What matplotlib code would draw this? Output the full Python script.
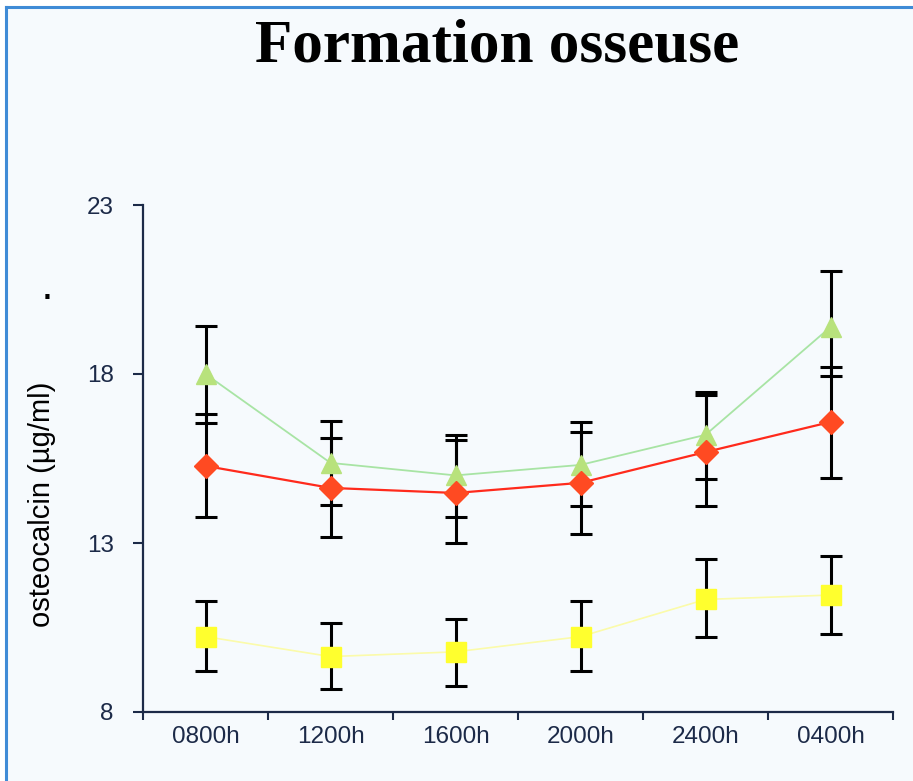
import matplotlib.pyplot as plt
import numpy as np
from matplotlib.lines import Line2D
from matplotlib.patches import Rectangle

# Data
times = ['0800h', '1200h', '1600h', '2000h', '2400h', '0400h']

green = [18.0, 15.37, 15.0, 15.31, 16.2, 19.39]
green_lo = [1.45, 1.24, 1.24, 1.22, 1.3, 1.45]
green_hi = [1.42, 1.24, 1.2, 1.28, 1.28, 1.67]

red = [15.28, 14.63, 14.48, 14.78, 15.69, 16.58]
red_lo = [1.51, 1.44, 1.48, 1.51, 1.6, 1.67]
red_hi = [1.54, 1.49, 1.57, 1.5, 1.69, 1.62]

yellow = [10.23, 9.64, 9.78, 10.23, 11.33, 11.46]
yellow_lo = [1.02, 0.97, 1.01, 1.01, 1.1, 1.15]
yellow_hi = [1.06, 0.98, 0.96, 1.06, 1.2, 1.16]

x = np.arange(len(times)) + 0.5
navy = '#1c2a48'

fig = plt.figure(figsize=(9.13, 7.81), dpi=100)
fig.patch.set_facecolor('white')

# light panel with blue border on top and left
fig.patches.append(Rectangle((6/913, 0), 1, 1 - 7/781, transform=fig.transFigure,
                             facecolor='#f6fafd', edgecolor='none', zorder=-10))
fig.lines.append(Line2D([6/913, 6/913], [0, 1 - 7/781], transform=fig.transFigure,
                        color='#3f8bd6', lw=2.2))
fig.lines.append(Line2D([6/913, 1], [1 - 7/781, 1 - 7/781], transform=fig.transFigure,
                        color='#3f8bd6', lw=2.2))

ax = fig.add_axes([143/913, 1 - 712/781, 750/913, 507/781])
ax.set_facecolor('none')

series = [
    (green, green_lo, green_hi, '#a8e4a4', '#b8e27c', '^', 15, 1.3),
    (red, red_lo, red_hi, '#ff2a1c', '#ff4a22', 'D', 12, 1.6),
    (yellow, yellow_lo, yellow_hi, '#fbfbaa', '#ffff2e', 's', 15, 1.2),
]
for vals, lo, hi, lc, mc, mk, ms, lw in series:
    ax.errorbar(x, vals, yerr=[lo, hi], fmt='none', ecolor='black',
                elinewidth=2.2, capsize=8, capthick=2.2, zorder=2)
    ax.plot(x, vals, color=lc, lw=lw, marker=mk, markersize=ms,
            markerfacecolor=mc, markeredgecolor=mc, zorder=3)

ax.set_xlim(0, 6)
ax.set_ylim(8, 23)
ax.set_yticks([8, 13, 18, 23])
ax.set_xticks(np.arange(7))
ax.set_xticklabels([])
ax.set_xticks(x, minor=True)
ax.set_xticklabels(times, minor=True)
ax.tick_params(axis='x', which='major', direction='out', length=6, width=1.5, color=navy)
ax.tick_params(axis='x', which='minor', length=0, pad=10, labelsize=17.5, labelcolor=navy)
ax.tick_params(axis='y', direction='out', length=7, width=1.5, color=navy,
               pad=14, labelsize=17.5, labelcolor=navy)
for lab in ax.get_xticklabels(minor=True) + ax.get_yticklabels():
    lab.set_family('Liberation Sans')

for side in ['top', 'right']:
    ax.spines[side].set_visible(False)
for side in ['left', 'bottom']:
    ax.spines[side].set_color(navy)
    ax.spines[side].set_linewidth(1.6)

fig.text(42/913, 1 - 504/781, 'osteocalcin (µg/ml)', rotation=90, ha='center', va='center',
         fontsize=21, family='Liberation Sans', color='black')
fig.text(47/913, 1 - 292/781, '.', ha='center', va='center', fontsize=17,
         fontweight='bold', color='black')

fig.text(497/913, 1 - 46/781, 'Formation osseuse', ha='center', va='center',
         fontsize=44, fontweight='bold', family='Liberation Serif', color='black')

fig.savefig('out.png', dpi=100, facecolor=fig.get_facecolor())
